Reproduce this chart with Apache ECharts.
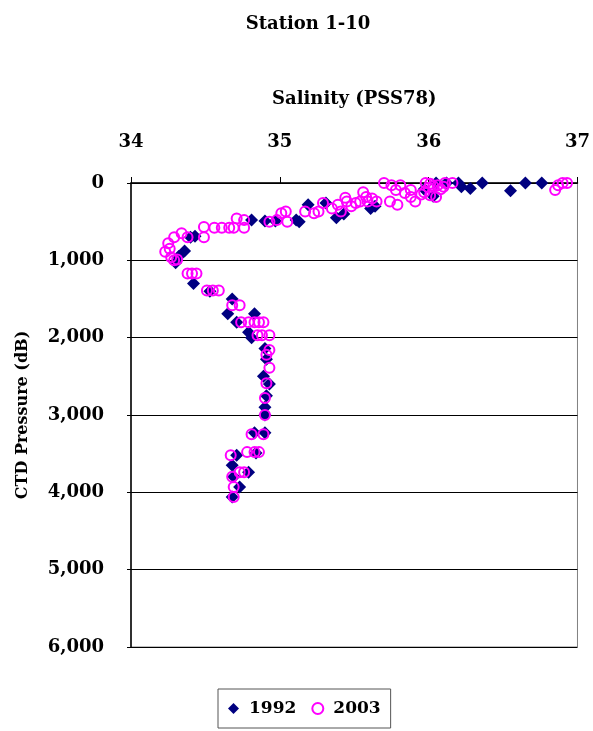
<!DOCTYPE html>
<html>
<head>
<meta charset="utf-8">
<script src="https://cdn.jsdelivr.net/npm/echarts@6/dist/echarts.min.js"></script>
<style>
  html, body { margin: 0; padding: 0; background: #fff; }
  #chart { width: 593px; height: 731px; }
</style>
</head>
<body>
<div id="chart"></div>
<script>
// Station 1-10 salinity profiles: [salinity (PSS78), CTD pressure (dB)]
const salinity1992 = [
  [36.05, 0], [36.12, 0], [36.20, 0], [36.22, 50], [36.28, 70], [36.36, 0],
  [36.55, 100], [36.65, 0], [36.76, 0], [35.97, 80], [36.03, 170],
  [35.64, 300], [35.61, 330], [35.43, 400], [35.38, 450], [35.19, 280],
  [35.31, 260], [35.13, 500], [35.11, 480], [34.97, 490], [34.90, 490],
  [34.81, 480], [34.43, 690], [34.40, 700], [34.36, 880], [34.32, 950],
  [34.30, 1030], [34.42, 1300], [34.53, 1400], [34.68, 1500], [34.65, 1690],
  [34.83, 1690], [34.71, 1800], [34.79, 1930], [34.81, 2000], [34.90, 2140],
  [34.91, 2280], [34.89, 2500], [34.93, 2600], [34.91, 2750], [34.90, 2900],
  [34.90, 3000], [34.90, 3230], [34.83, 3230], [34.84, 3490], [34.71, 3520],
  [34.68, 3650], [34.79, 3740], [34.69, 3800], [34.73, 3930], [34.68, 4060]
];

const salinity2003 = [
  [35.70, 0], [35.75, 30], [35.78, 90], [35.74, 240], [35.79, 280], [35.81, 30],
  [35.84, 130], [35.88, 90], [35.91, 240], [35.88, 180], [35.98, 0], [36.01, 10],
  [36.06, 30], [36.11, 0], [36.16, 0], [35.97, 120], [36.01, 160], [36.05, 180],
  [36.00, 60], [36.08, 80], [36.03, 40], [35.95, 150], [36.10, 50],
  [36.87, 30], [36.90, 0], [36.93, 0], [36.85, 90],
  [35.17, 370], [35.23, 390], [35.26, 370], [35.29, 260], [35.39, 280],
  [35.44, 190], [35.41, 370], [35.51, 260], [35.56, 120], [35.58, 180],
  [35.59, 240], [35.65, 240], [35.54, 240], [35.35, 330], [35.48, 300],
  [35.45, 240], [35.62, 200],
  [35.01, 390], [34.98, 480], [35.05, 500], [35.04, 370], [34.93, 500],
  [34.71, 460], [34.76, 480], [34.69, 580], [34.76, 580], [34.66, 580],
  [34.61, 580], [34.56, 580], [34.49, 570], [34.49, 700], [34.38, 700],
  [34.34, 650], [34.29, 700], [34.25, 780], [34.23, 890], [34.27, 960],
  [34.29, 1000], [34.31, 990], [34.26, 850],
  [34.38, 1170], [34.44, 1170], [34.41, 1170], [34.51, 1390], [34.59, 1390],
  [34.55, 1390], [34.68, 1580], [34.73, 1580], [34.74, 1800], [34.79, 1800],
  [34.83, 1800], [34.86, 1800], [34.89, 1800], [34.85, 1970], [34.88, 1970],
  [34.93, 1970], [34.93, 2160], [34.91, 2220], [34.93, 2390], [34.91, 2590],
  [34.90, 2780], [34.90, 3000], [34.81, 3250], [34.89, 3250], [34.67, 3520],
  [34.78, 3480], [34.83, 3480], [34.86, 3480], [34.73, 3740], [34.76, 3740],
  [34.68, 3800], [34.69, 3930], [34.69, 4060]
];

const seriesNames = ['1992', '2003'];
const salinityRange = [34, 37];
const pressureRange = [0, 6000];

const FONT = 'DejaVu Serif';
const chart = echarts.init(document.getElementById('chart'), null, { renderer: 'canvas' });

chart.setOption({
  animation: false,
  backgroundColor: '#ffffff',
  title: {
    text: 'Station 1-10',
    left: 303,
    top: 10,
    textAlign: 'center',
    textStyle: { fontFamily: FONT, fontWeight: 'bold', fontSize: 18, color: '#000' }
  },
  legend: {
    data: seriesNames,
    left: 218,
    top: 689,
    orient: 'horizontal',
    padding: [11, 10, 11, 10],
    itemGap: 15,
    itemWidth: 11,
    itemHeight: 11,
    borderColor: '#555',
    borderWidth: 1,
    textStyle: { fontFamily: FONT, fontWeight: 'bold', fontSize: 17, color: '#000', padding: [0, 0, 0, 5] }
  },
  grid: {
    left: 131, right: 13, top: 183, bottom: 84,
    show: true, borderColor: '#808080', borderWidth: 1, backgroundColor: '#fff'
  },
  xAxis: {
    type: 'value',
    position: 'top',
    min: salinityRange[0],
    max: salinityRange[1],
    interval: 1,
    name: 'Salinity (PSS78)',
    nameLocation: 'middle',
    nameGap: 75,
    nameTextStyle: { fontFamily: FONT, fontWeight: 'bold', fontSize: 18, color: '#000' },
    axisLine: { show: true, lineStyle: { color: '#000', width: 1.5 } },
    axisTick: { show: true, inside: false, length: 6, lineStyle: { color: '#000' } },
    axisLabel: { fontFamily: FONT, fontWeight: 'bold', fontSize: 18, color: '#000', margin: 32 },
    splitLine: { show: false }
  },
  yAxis: {
    type: 'value',
    inverse: true,
    min: pressureRange[0],
    max: pressureRange[1],
    interval: 1000,
    name: 'CTD Pressure (dB)',
    nameLocation: 'middle',
    nameRotate: 90,
    nameGap: 100,
    nameTextStyle: { fontFamily: FONT, fontWeight: 'bold', fontSize: 16, color: '#000' },
    axisLine: { show: true, lineStyle: { color: '#000', width: 1.5 } },
    axisTick: { show: true, inside: false, length: 4, lineStyle: { color: '#000' } },
    axisLabel: {
      fontFamily: FONT, fontWeight: 'bold', fontSize: 18, color: '#000', margin: 27,
      formatter: v => v.toLocaleString('en-US')
    },
    splitLine: { show: true, lineStyle: { color: '#000', width: 1 } }
  },
  series: [
    {
      name: seriesNames[0],
      type: 'scatter',
      data: salinity1992,
      symbol: 'diamond',
      symbolSize: 13,
      itemStyle: { color: '#000080', opacity: 1 },
      z: 2
    },
    {
      name: seriesNames[1],
      type: 'scatter',
      data: salinity2003,
      symbol: 'circle',
      symbolSize: 10,
      itemStyle: { color: 'rgba(255,255,255,0)', borderColor: '#FF00FF', borderWidth: 2, opacity: 1 },
      z: 3
    }
  ]
});
</script>
</body>
</html>
